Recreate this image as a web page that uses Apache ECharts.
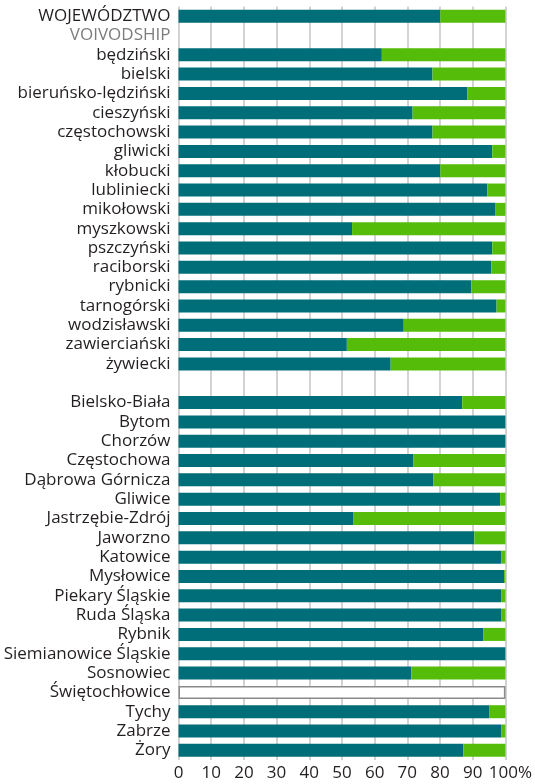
<!DOCTYPE html>
<html>
<head>
<meta charset="utf-8">
<script src="https://cdn.jsdelivr.net/npm/echarts@6/dist/echarts.min.js"></script>
<style>html,body{margin:0;padding:0;background:#fff}#c{width:535px;height:784px}</style>
</head>
<body>
<div id="c"></div>
<script>
const categories = ['WOJEWÓDZTWO','VOIVODSHIP','będziński','bielski','bieruńsko-lędziński','cieszyński','częstochowski','gliwicki','kłobucki','lubliniecki','mikołowski','myszkowski','pszczyński','raciborski','rybnicki','tarnogórski','wodzisławski','zawierciański','żywiecki',' ','Bielsko-Biała','Bytom','Chorzów','Częstochowa','Dąbrowa Górnicza','Gliwice','Jastrzębie-Zdrój','Jaworzno','Katowice','Mysłowice','Piekary Śląskie','Ruda Śląska','Rybnik','Siemianowice Śląskie','Sosnowiec','Świętochłowice','Tychy','Zabrze','Żory'];
const tealValues = [80.1,null,62.2,77.7,88.4,71.6,77.7,96.0,80.1,94.5,97.0,53.1,96.0,95.7,89.6,97.3,68.9,51.5,64.9,null,86.8,100,100,71.9,78.0,98.4,53.4,90.5,98.7,99.6,98.7,98.7,93.2,100,71.2,null,95.0,98.7,87.1];
const greenValues = [19.9,null,37.8,22.3,11.6,28.4,22.3,4.0,19.9,5.5,3.0,46.9,4.0,4.3,10.4,2.7,31.1,48.5,35.1,null,13.2,0,0,28.1,22.0,1.6,46.6,9.5,1.3,0.4,1.3,1.3,6.8,0,28.8,null,5.0,1.3,12.9];
const noDataValues = [null,null,null,null,null,null,null,null,null,null,null,null,null,null,null,null,null,null,null,null,null,null,null,null,null,null,null,null,null,null,null,null,null,null,null,100,null,null,null];
const xTicks = [0,10,20,30,40,50,60,70,80,90,100];

const chart = echarts.init(document.getElementById('c'), null, {renderer:'canvas'});
const FONT = 'Open Sans';
chart.setOption({
  animation: false,
  grid: {left: 178.5, right: 29, top: 6.5, bottom: 24, containLabel: false},
  xAxis: {
    type: 'value', min: 0, max: 100, interval: 10,
    axisLine: {show: false}, axisTick: {show: false},
    splitLine: {show: true, lineStyle: {color: '#c4c4c4', width: 1.5}},
    axisLabel: {
      margin: 5, color: '#231f20', fontFamily: FONT, fontSize: 17,
      formatter: function (v) { return v === 100 ? '{p|100%}' : String(v); },
      rich: {p: {fontFamily: FONT, fontSize: 17, color: '#231f20', padding: [0,0,0,10]}}
    }
  },
  yAxis: {
    type: 'category', inverse: true, data: categories,
    axisLine: {show: false}, axisTick: {show: false}, splitLine: {show: false},
    axisLabel: {
      margin: 8, fontFamily: FONT, fontSize: 17, color: '#231f20', interval: 0,
      formatter: function (v) { return v === 'VOIVODSHIP' ? '{g|' + v + '}' : v; },
      rich: {g: {fontFamily: FONT, fontSize: 17, color: '#7d7d7d'}}
    }
  },
  series: [
    {name: 'a', type: 'bar', stack: 's', data: tealValues, barWidth: 13,
     itemStyle: {color: '#006e79'}},
    {name: 'b', type: 'bar', stack: 's', data: greenValues, barWidth: 13,
     itemStyle: {color: '#55bd09'}},
    {name: 'n', type: 'bar', barGap: '-100%', data: noDataValues, barWidth: 13,
     itemStyle: {color: '#ffffff', borderColor: '#8a8a8a', borderWidth: 1.5}}
  ]
});
</script>
</body>
</html>
